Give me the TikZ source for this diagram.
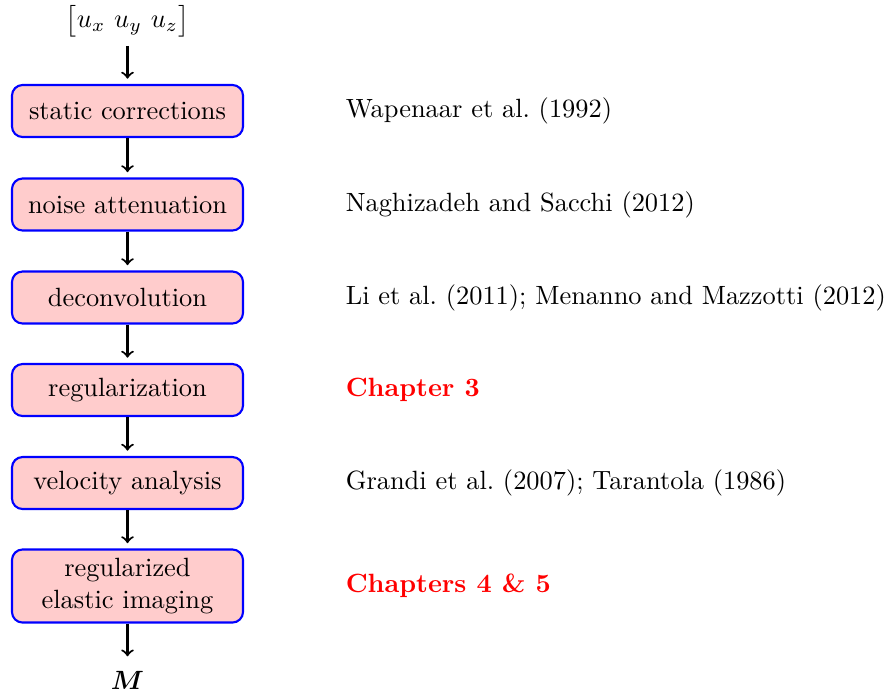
\documentclass[tikz,border=0pt]{standalone}
\usepackage{amsmath,bm}
\usetikzlibrary{arrows,positioning}
\tikzset{stepbox/.style={rounded corners=4, draw=blue, thick, fill=red!20, minimum width=87.5pt, minimum height=19.7pt, align=center}}
\tikzset{arr/.style={draw, ->, thick, shorten >=2pt}}
\tikzset{cite/.style={anchor=west, right=35pt of #1}}
\newcommand{\chap}[1]{\textcolor{red}{\textbf{#1}}}

\begin{document}
\begin{tikzpicture}[x=0.3788pt, y=-0.3788pt]
		\useasboundingbox (0,0) rectangle (889,693);
		\node[inner sep=1pt, outer sep=2.4pt] (U) at (127.5,21){$\bigl[u_x\ u_y\ u_z\bigr]$};
		
		\node[stepbox] (static) at (127.5,111){static corrections};
		\node[stepbox] (noise) at (127.5,204.5){noise attenuation};
		\node[stepbox] (decon) at (127.5,297.5){deconvolution};
		\node[stepbox] (reg) at (127.5,390){regularization};
		\node[stepbox] (vel) at (127.5,483){velocity analysis};
		\node[stepbox] (img) at (127.5,586){regularized\\elastic imaging};
		\node (M) at (127.5,680){$\bm{M}$};
		
		\draw[arr] (U) -- (static);
		\draw[arr] (static) -- (noise);
		\draw[arr] (noise) -- (decon);
		\draw[arr] (decon) -- (reg);
		\draw[arr] (reg) -- (vel);
		\draw[arr] (vel) -- (img);
		\draw[arr] (img) -- (M);
		
		% references for each step
		\node[cite=static] (r1) {Wapenaar et al.\ (1992)};
		\node[cite=noise] (r2) {Naghizadeh and Sacchi (2012)};
		\node[cite=decon] (r3) {Li et al.\ (2011); Menanno and Mazzotti (2012)};
		\node[cite=reg] (r4) {\chap{Chapter 3}};
		\node[cite=vel] (r5) {Grandi et al.\ (2007); Tarantola (1986)};
		\node[cite=img] (r6) {\chap{Chapters 4 \& 5}};
	\end{tikzpicture}
\end{document}
